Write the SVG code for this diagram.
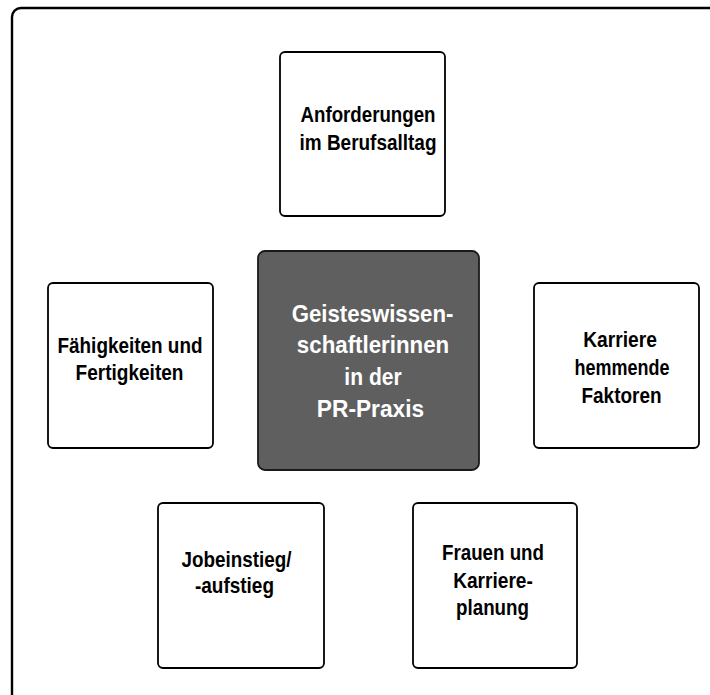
<svg xmlns="http://www.w3.org/2000/svg" width="710" height="695" viewBox="0 0 710 695">
<style>
.box{fill:#fff;stroke:#000;stroke-width:1.8}
.core{fill:#5f5f5f;stroke:#1a1a1a;stroke-width:1.8}
.t{font-family:"Liberation Sans",Arial,sans-serif;font-weight:bold;font-size:22.5px;fill:#000;text-anchor:middle}
.c{font-family:"Liberation Sans",Arial,sans-serif;font-weight:bold;font-size:24px;fill:#fff;text-anchor:middle}
</style>
<rect width="710" height="695" fill="#fff"/>
<path d="M12,705 V17 A9,9 0 0 1 21,8 H720" fill="none" stroke="#000" stroke-width="2.4"/>
<g id="connectors"></g>
<g id="n-top">
<rect class="box" x="280" y="52" width="165" height="164" rx="5"/>
<text class="t"><tspan x="368" y="122" textLength="135" lengthAdjust="spacingAndGlyphs">Anforderungen</tspan><tspan x="368" y="149.5" textLength="137" lengthAdjust="spacingAndGlyphs">im Berufsalltag</tspan></text>
</g>
<g id="n-center">
<rect class="core" x="258" y="251" width="221" height="219" rx="7"/>
<text class="c"><tspan x="372.5" y="321.5" textLength="161.7" lengthAdjust="spacingAndGlyphs">Geisteswissen-</tspan><tspan x="373" y="353" textLength="152.3" lengthAdjust="spacingAndGlyphs">schaftlerinnen</tspan><tspan x="373" y="385" textLength="57.3" lengthAdjust="spacingAndGlyphs">in der</tspan><tspan x="370.5" y="416.5" textLength="107.3" lengthAdjust="spacingAndGlyphs">PR-Praxis</tspan></text>
</g>
<g id="n-left">
<rect class="box" x="48" y="283" width="165" height="165" rx="5"/>
<text class="t"><tspan x="130" y="353" textLength="145" lengthAdjust="spacingAndGlyphs">Fähigkeiten und</tspan><tspan x="129.5" y="380" textLength="108" lengthAdjust="spacingAndGlyphs">Fertigkeiten</tspan></text>
</g>
<g id="n-right">
<rect class="box" x="534" y="283" width="165" height="165" rx="5"/>
<text class="t"><tspan x="620" y="346.5" textLength="73.7" lengthAdjust="spacingAndGlyphs">Karriere</tspan><tspan x="622" y="375" textLength="95" lengthAdjust="spacingAndGlyphs">hemmende</tspan><tspan x="621.5" y="403" textLength="80" lengthAdjust="spacingAndGlyphs">Faktoren</tspan></text>
</g>
<g id="n-bottom-left">
<rect class="box" x="158" y="503" width="166" height="165" rx="5"/>
<text class="t"><tspan x="236.5" y="566.5" textLength="110" lengthAdjust="spacingAndGlyphs">Jobeinstieg/</tspan><tspan x="234.5" y="593" textLength="79" lengthAdjust="spacingAndGlyphs">-aufstieg</tspan></text>
</g>
<g id="n-bottom-right">
<rect class="box" x="413" y="503" width="164" height="165" rx="5"/>
<text class="t"><tspan x="493" y="560" textLength="102" lengthAdjust="spacingAndGlyphs">Frauen und</tspan><tspan x="493" y="588" textLength="79.7" lengthAdjust="spacingAndGlyphs">Karriere-</tspan><tspan x="492.5" y="615" textLength="73" lengthAdjust="spacingAndGlyphs">planung</tspan></text>
</g>
</svg>
